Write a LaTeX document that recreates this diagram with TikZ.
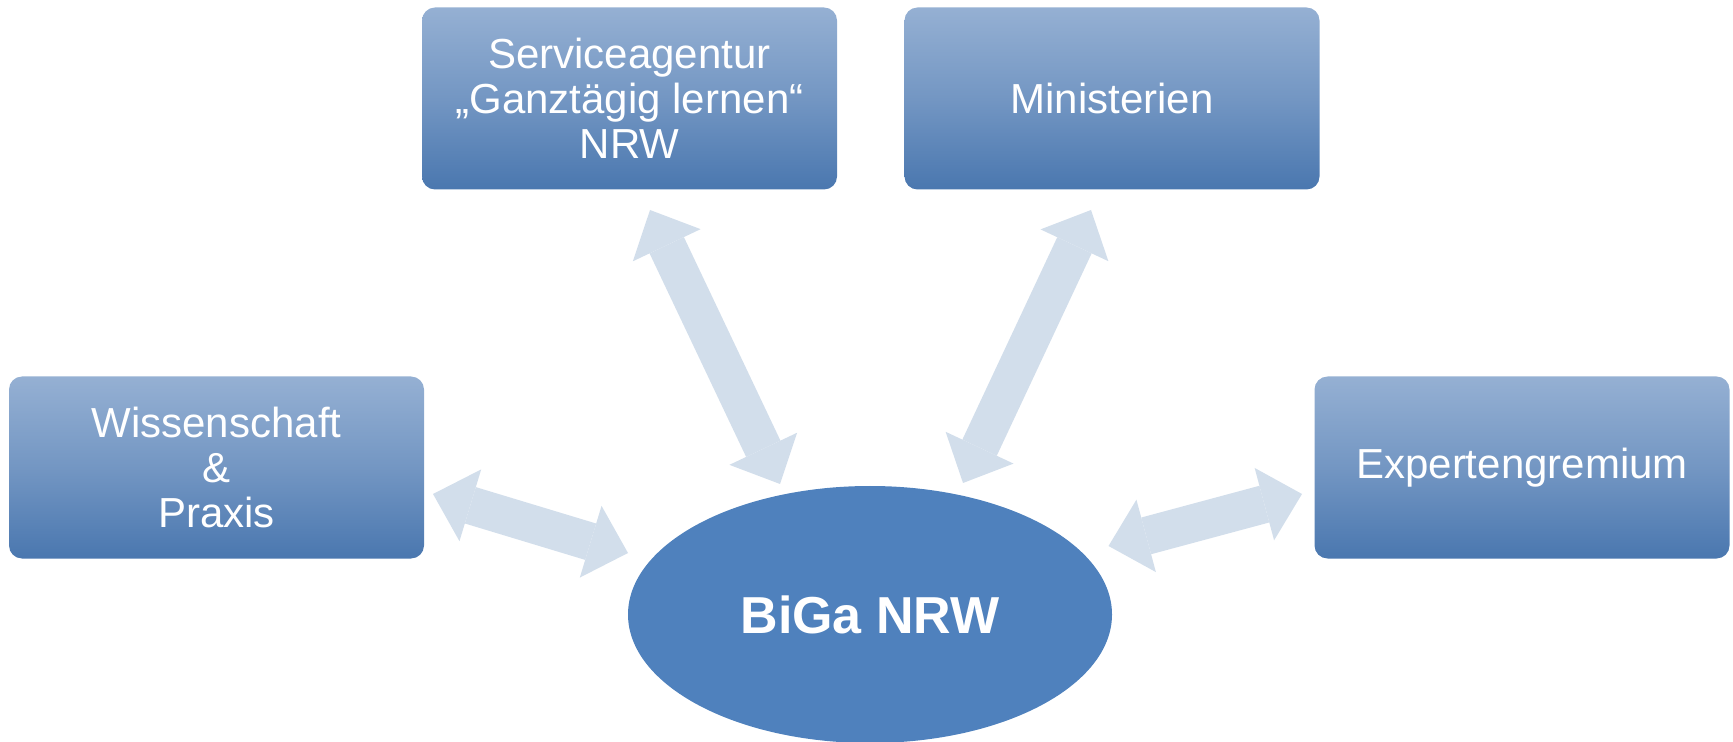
\documentclass[tikz,border=0pt]{standalone}
\usepackage{fontspec}
\setmainfont{Liberation Sans}
\usetikzlibrary{arrows.meta,shapes.geometric}

\definecolor{boxtop}{RGB}{149,176,211}
\definecolor{boxbottom}{RGB}{74,119,175}
\definecolor{bigablue}{RGB}{79,129,189}
\definecolor{arrowblue}{RGB}{210,222,235}

\tikzset{
  partnerbox/.style={rectangle, rounded corners=6.5pt, top color=boxtop, bottom color=boxbottom,
    middle color=boxtop!55!boxbottom, shading angle=0,
    minimum width=207.5pt, minimum height=91pt, align=center, text=white,
    font=\fontsize{21}{22.5}\selectfont, inner sep=0pt},
  bigaellipse/.style={ellipse, fill=bigablue, minimum width=242pt, minimum height=128.5pt,
    text=white, font=\fontsize{26}{30}\selectfont\bfseries, inner sep=0pt},
  dblarrow/.style={draw=arrowblue, line width=19pt,
    {Triangle[length=19.5pt,width=37.5pt,line width=0pt]}-{Triangle[length=19.5pt,width=37.5pt,line width=0pt]}}
}

\begin{document}
\begin{tikzpicture}[x=0.5pt,y=0.5pt,yscale=-1,xscale=1]
\useasboundingbox (0,0) rectangle (1733,742);

% Boxes
\node[partnerbox] (service) at (629.5,98.5) {Serviceagentur\\„Ganztägig lernen“\\NRW};
\node[partnerbox] (minist) at (1112,98.5) {Ministerien};
\node[partnerbox] (wiss) at (216.5,467.5) {Wissenschaft\\\&\\Praxis};
\node[partnerbox] (expert) at (1522,467.5) {Expertengremium};

% Centre
\node[bigaellipse] (biga) at (870,614.5) {BiGa NRW};

% Arrow tips
\coordinate (serviceTip) at (650,210);
\coordinate (serviceBiga) at (780,484);
\coordinate (ministTip) at (1091,210);
\coordinate (ministBiga) at (963,483);
\coordinate (wissTip) at (433,494);
\coordinate (wissBiga) at (628,553);
\coordinate (expertTip) at (1302,494);
\coordinate (expertBiga) at (1108.5,546);

% Arrows
\draw[dblarrow] (serviceTip) -- (serviceBiga);
\draw[dblarrow] (ministTip) -- (ministBiga);
\draw[dblarrow] (wissTip) -- (wissBiga);
\draw[dblarrow] (expertTip) -- (expertBiga);

\end{tikzpicture}
\end{document}
